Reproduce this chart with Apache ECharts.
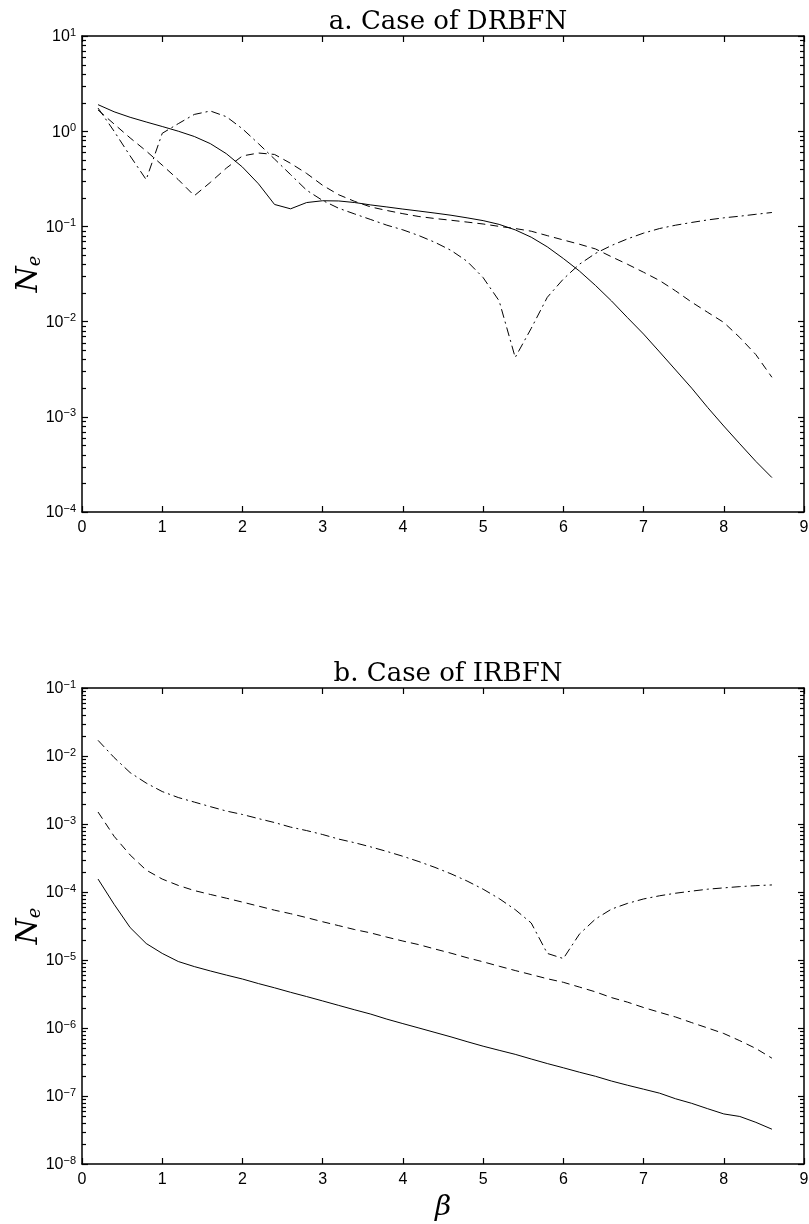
<!DOCTYPE html>
<html><head><meta charset="utf-8">
<script src="https://cdn.jsdelivr.net/npm/echarts@6/dist/echarts.min.js"></script>
<style>html,body{margin:0;padding:0;background:#fff}#c{width:809px;height:1224px}</style>
</head><body><div id="c"></div>
<script>
const beta = [0.2,0.4,0.6,0.8,1.0,1.2,1.4,1.6,1.8,2.0,2.2,2.4,2.6,2.8,3.0,3.2,3.4,3.6,3.8,4.0,4.2,4.4,4.6,4.8,5.0,5.2,5.4,5.6,5.8,6.0,6.2,6.4,6.6,6.8,7.0,7.2,7.4,7.6,7.8,8.0,8.2,8.4,8.6];
const xTicks = [0,1,2,3,4,5,6,7,8,9];
const titleA = 'a. Case of DRBFN';
const titleB = 'b. Case of IRBFN';

// Panel a: DRBFN
const drbfnSolid = [1.9,1.6,1.4,1.25,1.12,1.0,0.88,0.74,0.58,0.42,0.28,0.17,0.153,0.178,0.186,0.185,0.178,0.168,0.16,0.152,0.145,0.138,0.131,0.123,0.115,0.105,0.092,0.077,0.061,0.046,0.034,0.024,0.0165,0.011,0.0074,0.0048,0.0031,0.002,0.00125,0.0008,0.00052,0.00034,0.00023];
const drbfnDashed = [1.67,1.19,0.85,0.62,0.44,0.31,0.21,0.29,0.41,0.55,0.59,0.57,0.46,0.36,0.27,0.215,0.183,0.16,0.147,0.136,0.127,0.121,0.116,0.111,0.106,0.1,0.095,0.089,0.08,0.072,0.065,0.058,0.048,0.040,0.033,0.027,0.021,0.016,0.0125,0.0098,0.0068,0.0045,0.0026];
const drbfnDashDot = [1.75,1.0,0.55,0.31,0.95,1.2,1.5,1.63,1.42,1.06,0.74,0.51,0.35,0.24,0.187,0.155,0.135,0.118,0.103,0.092,0.08,0.068,0.056,0.043,0.029,0.0165,0.0042,0.0085,0.018,0.028,0.04,0.052,0.063,0.074,0.085,0.095,0.103,0.11,0.117,0.123,0.128,0.134,0.14];

// Panel b: IRBFN
const irbfnSolid = [1.55e-4,6.6e-5,3.0e-5,1.75e-5,1.25e-5,9.5e-6,8.0e-6,6.9e-6,6.0e-6,5.25e-6,4.5e-6,3.9e-6,3.35e-6,2.9e-6,2.5e-6,2.15e-6,1.85e-6,1.6e-6,1.35e-6,1.16e-6,1.0e-6,8.6e-7,7.4e-7,6.3e-7,5.4e-7,4.7e-7,4.1e-7,3.5e-7,3.0e-7,2.6e-7,2.24e-7,1.95e-7,1.66e-7,1.44e-7,1.26e-7,1.1e-7,9.1e-8,7.8e-8,6.5e-8,5.45e-8,5.0e-8,4.1e-8,3.25e-8];
const irbfnDashed = [1.5e-3,6.6e-4,3.5e-4,2.1e-4,1.55e-4,1.25e-4,1.05e-4,9.2e-5,8.1e-5,7.1e-5,6.2e-5,5.4e-5,4.8e-5,4.2e-5,3.65e-5,3.2e-5,2.8e-5,2.5e-5,2.17e-5,1.9e-5,1.68e-5,1.45e-5,1.26e-5,1.08e-5,9.4e-6,8.1e-6,7.0e-6,6.1e-6,5.3e-6,4.7e-6,4.0e-6,3.4e-6,2.8e-6,2.4e-6,2.0e-6,1.7e-6,1.45e-6,1.2e-6,1.0e-6,8.3e-7,6.5e-7,5.0e-7,3.6e-7];
const irbfnDashDot = [1.7e-2,9.5e-3,5.7e-3,4.0e-3,3.0e-3,2.45e-3,2.1e-3,1.8e-3,1.55e-3,1.38e-3,1.2e-3,1.05e-3,9.0e-4,8.0e-4,7.0e-4,6.0e-4,5.3e-4,4.6e-4,3.95e-4,3.35e-4,2.8e-4,2.3e-4,1.85e-4,1.45e-4,1.1e-4,8.0e-5,5.5e-5,3.5e-5,1.25e-5,1.05e-5,2.4e-5,4.0e-5,5.6e-5,6.8e-5,7.9e-5,8.8e-5,9.6e-5,1.03e-4,1.1e-4,1.15e-4,1.2e-4,1.24e-4,1.27e-4];

const yExpA = [-4, 1];
const yExpB = [-8, -1];

function minorValues(lo, hi) {
  const out = [];
  for (let d = lo; d < hi; d++) for (let m = 2; m <= 9; m++) out.push([1, m * Math.pow(10, d)]);
  return out;
}
function pairs(ys) { return beta.map((b, i) => [b, ys[i]]); }

const SANS = "'Liberation Sans Narrow', 'Liberation Sans', sans-serif";
const SERIF = 'DejaVu Serif';

function yLabel(v) {
  const e = Math.round(Math.log10(v));
  return '{b|10}{s|' + String(e).replace('-', '\u2212') + '}';
}
const yRich = {
  b: {fontFamily: SANS, fontSize: 16, color: '#000', verticalAlign: 'bottom', lineHeight: 18},
  s: {fontFamily: SANS, fontSize: 11, color: '#000', verticalAlign: 'top', lineHeight: 11, padding: [0, 0, 9, 0]}
};

function xAx(grid, top, showName) {
  return {
    type: 'value', gridIndex: grid, min: 0, max: 9, interval: 1,
    position: top ? 'top' : 'bottom',
    axisLine: {show: true, onZero: false, lineStyle: {color: '#000', width: 1.5}},
    axisTick: {show: true, inside: true, length: 6, lineStyle: {color: '#000', width: 1.2}},
    axisLabel: {show: !top, color: '#000', fontFamily: SANS, fontSize: 16, margin: 8,
      formatter: v => xTicks.indexOf(v) >= 0 ? String(v) : ''},
    splitLine: {show: false},
    name: showName ? '\u03b2' : '',
    nameLocation: 'middle', nameGap: 30,
    nameTextStyle: {fontFamily: SERIF, fontStyle: 'italic', fontSize: 28, color: '#000'}
  };
}
function yAx(grid, right, ext) {
  return {
    type: 'log', logBase: 10, gridIndex: grid,
    min: Math.pow(10, ext[0]), max: Math.pow(10, ext[1]), interval: 1, splitNumber: ext[1] - ext[0],
    position: right ? 'right' : 'left',
    axisLine: {show: true, onZero: false, lineStyle: {color: '#000', width: 1.5}},
    axisTick: {show: true, inside: true, length: 6, lineStyle: {color: '#000', width: 1.2}},
    axisLabel: {show: !right, formatter: yLabel, rich: yRich, margin: 6},
    splitLine: {show: false},
    minorTick: {show: false},
    name: right ? '' : '{n|N}{e|e}',
    nameLocation: 'middle', nameGap: 38, nameRotate: 90, nameMoveOverlap: false,
    nameTextStyle: {rich: {
      n: {fontFamily: SERIF, fontStyle: 'italic', fontSize: 30, color: '#000', verticalAlign: 'bottom', lineHeight: 34},
      e: {fontFamily: SERIF, fontStyle: 'italic', fontSize: 18, color: '#000', verticalAlign: 'bottom', lineHeight: 16}
    }}
  };
}

function minorTickItem(params, api) {
  const cs = params.coordSys;
  const y = Math.round(api.coord([api.value(0), api.value(1)])[1]) + 0.5;
  return {type: 'group', children: [
    {type: 'line', shape: {x1: cs.x, y1: y, x2: cs.x + 4, y2: y}, style: {stroke: '#000', lineWidth: 1.2}},
    {type: 'line', shape: {x1: cs.x + cs.width - 4, y1: y, x2: cs.x + cs.width, y2: y}, style: {stroke: '#000', lineWidth: 1.2}}
  ]};
}

function lineSeries(data, xi, yi, dash) {
  return {
    type: 'line', xAxisIndex: xi, yAxisIndex: yi, data: pairs(data),
    symbol: 'none', showSymbol: false, smooth: false, silent: true,
    lineStyle: {color: '#000', width: 1, type: dash}, z: 3
  };
}

const chart = echarts.init(document.getElementById('c'), null, {renderer: 'canvas'});
chart.setOption({
  animation: false,
  backgroundColor: '#fff',
  title: [
    {text: titleA, left: 443, top: 4, textAlign: 'center',
      textStyle: {fontFamily: SERIF, fontWeight: 'normal', fontSize: 26, color: '#000'}},
    {text: titleB, left: 443, top: 656, textAlign: 'center',
      textStyle: {fontFamily: SERIF, fontWeight: 'normal', fontSize: 26, color: '#000'}}
  ],
  grid: [
    {left: 82, top: 36, width: 722, height: 476, containLabel: false, outerBoundsMode: 'none'},
    {left: 82, top: 688, width: 722, height: 476, containLabel: false, outerBoundsMode: 'none'}
  ],
  xAxis: [xAx(0, false, false), xAx(0, true, false), xAx(1, false, true), xAx(1, true, false)],
  yAxis: [yAx(0, false, yExpA), yAx(0, true, yExpA), yAx(1, false, yExpB), yAx(1, true, yExpB)],
  series: [
    lineSeries(drbfnSolid, 0, 0, 'solid'),
    lineSeries(drbfnDashed, 0, 0, [8, 5]),
    lineSeries(drbfnDashDot, 0, 0, [9, 4, 2, 4]),
    lineSeries(irbfnSolid, 2, 2, 'solid'),
    lineSeries(irbfnDashed, 2, 2, [8, 5]),
    lineSeries(irbfnDashDot, 2, 2, [9, 4, 2, 4]),
    {type: 'custom', coordinateSystem: 'cartesian2d', xAxisIndex: 0, yAxisIndex: 0, data: minorValues(yExpA[0], yExpA[1]), renderItem: minorTickItem, silent: true, clip: false, z: 4},
    {type: 'custom', coordinateSystem: 'cartesian2d', xAxisIndex: 2, yAxisIndex: 2, data: minorValues(yExpB[0], yExpB[1]), renderItem: minorTickItem, silent: true, clip: false, z: 4}
  ]
});
</script>
</body></html>
